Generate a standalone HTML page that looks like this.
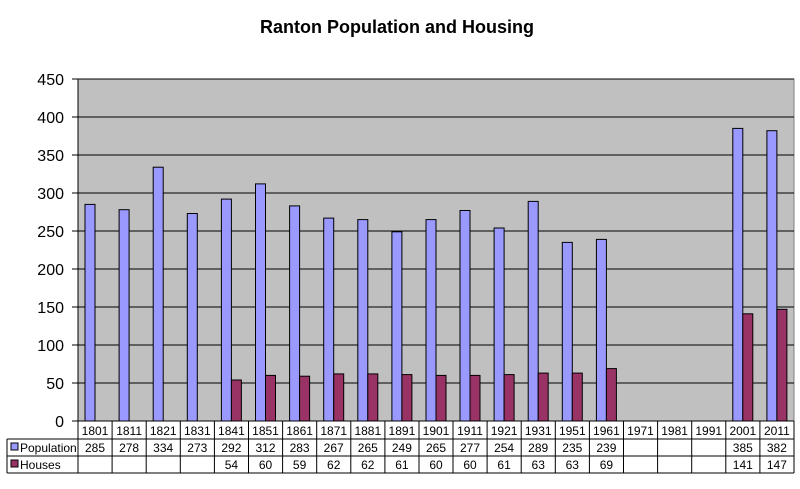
<!DOCTYPE html>
<html><head><style>
body{margin:0;background:#fff;}
</style></head><body>
<svg width="800" height="484" xmlns="http://www.w3.org/2000/svg" font-family="Liberation Sans, Arial, sans-serif">
<text x="397" y="33" text-anchor="middle" font-size="18" font-weight="bold">Ranton Population and Housing</text>
<rect x="78" y="79" width="716" height="342" fill="#c0c0c0" stroke="#808080"/>
<g stroke="#000">
<line x1="78" y1="79" x2="794" y2="79"/><line x1="78" y1="117" x2="794" y2="117"/><line x1="78" y1="155" x2="794" y2="155"/><line x1="78" y1="193" x2="794" y2="193"/><line x1="78" y1="231" x2="794" y2="231"/><line x1="78" y1="269" x2="794" y2="269"/><line x1="78" y1="307" x2="794" y2="307"/><line x1="78" y1="345" x2="794" y2="345"/><line x1="78" y1="383" x2="794" y2="383"/><line x1="78" y1="421" x2="794" y2="421"/>
<line x1="72" y1="79" x2="78" y2="79"/><line x1="72" y1="117" x2="78" y2="117"/><line x1="72" y1="155" x2="78" y2="155"/><line x1="72" y1="193" x2="78" y2="193"/><line x1="72" y1="231" x2="78" y2="231"/><line x1="72" y1="269" x2="78" y2="269"/><line x1="72" y1="307" x2="78" y2="307"/><line x1="72" y1="345" x2="78" y2="345"/><line x1="72" y1="383" x2="78" y2="383"/><line x1="72" y1="421" x2="78" y2="421"/>
<line x1="78" y1="79" x2="78" y2="421"/>
</g>
<g font-size="16" text-anchor="end">
<text x="64" y="85">450</text><text x="64" y="123">400</text><text x="64" y="161">350</text><text x="64" y="199">300</text><text x="64" y="237">250</text><text x="64" y="275">200</text><text x="64" y="313">150</text><text x="64" y="351">100</text><text x="64" y="389">50</text><text x="64" y="427">0</text>
</g>
<g fill="#9999ff" stroke="#000">
<rect x="85" y="204.4" width="10" height="216.6"/>
<rect x="119.1" y="209.7" width="10" height="211.3"/>
<rect x="153.2" y="167.2" width="10" height="253.8"/>
<rect x="187.3" y="213.5" width="10" height="207.5"/>
<rect x="221.4" y="199.1" width="10" height="221.9"/>
<rect x="255.5" y="183.9" width="10" height="237.1"/>
<rect x="289.6" y="205.9" width="10" height="215.1"/>
<rect x="323.7" y="218.1" width="10" height="202.9"/>
<rect x="357.8" y="219.6" width="10" height="201.4"/>
<rect x="391.9" y="231.8" width="10" height="189.2"/>
<rect x="426" y="219.6" width="10" height="201.4"/>
<rect x="460" y="210.5" width="10" height="210.5"/>
<rect x="494.1" y="228" width="10" height="193"/>
<rect x="528.2" y="201.4" width="10" height="219.6"/>
<rect x="562.3" y="242.4" width="10" height="178.6"/>
<rect x="596.4" y="239.4" width="10" height="181.6"/>
<rect x="732.8" y="128.4" width="10" height="292.6"/>
<rect x="766.9" y="130.7" width="10" height="290.3"/>
</g>
<g fill="#993366" stroke="#000">
<rect x="231.4" y="380" width="10" height="41"/>
<rect x="265.5" y="375.4" width="10" height="45.6"/>
<rect x="299.6" y="376.2" width="10" height="44.8"/>
<rect x="333.7" y="373.9" width="10" height="47.1"/>
<rect x="367.8" y="373.9" width="10" height="47.1"/>
<rect x="401.9" y="374.6" width="10" height="46.4"/>
<rect x="436" y="375.4" width="10" height="45.6"/>
<rect x="470" y="375.4" width="10" height="45.6"/>
<rect x="504.1" y="374.6" width="10" height="46.4"/>
<rect x="538.2" y="373.1" width="10" height="47.9"/>
<rect x="572.3" y="373.1" width="10" height="47.9"/>
<rect x="606.4" y="368.6" width="10" height="52.4"/>
<rect x="742.8" y="313.8" width="10" height="107.2"/>
<rect x="776.9" y="309.3" width="10" height="111.7"/>
</g>
<g stroke="#000">
<line x1="78" y1="421" x2="78" y2="473"/><line x1="112.1" y1="421" x2="112.1" y2="473"/><line x1="146.2" y1="421" x2="146.2" y2="473"/><line x1="180.3" y1="421" x2="180.3" y2="473"/><line x1="214.4" y1="421" x2="214.4" y2="473"/><line x1="248.5" y1="421" x2="248.5" y2="473"/><line x1="282.6" y1="421" x2="282.6" y2="473"/><line x1="316.7" y1="421" x2="316.7" y2="473"/><line x1="350.8" y1="421" x2="350.8" y2="473"/><line x1="384.9" y1="421" x2="384.9" y2="473"/><line x1="419" y1="421" x2="419" y2="473"/><line x1="453" y1="421" x2="453" y2="473"/><line x1="487.1" y1="421" x2="487.1" y2="473"/><line x1="521.2" y1="421" x2="521.2" y2="473"/><line x1="555.3" y1="421" x2="555.3" y2="473"/><line x1="589.4" y1="421" x2="589.4" y2="473"/><line x1="623.5" y1="421" x2="623.5" y2="473"/><line x1="657.6" y1="421" x2="657.6" y2="473"/><line x1="691.7" y1="421" x2="691.7" y2="473"/><line x1="725.8" y1="421" x2="725.8" y2="473"/><line x1="759.9" y1="421" x2="759.9" y2="473"/><line x1="794" y1="421" x2="794" y2="473"/>
<line x1="7" y1="439" x2="794" y2="439"/><line x1="7" y1="456" x2="794" y2="456"/><line x1="7" y1="473" x2="794" y2="473"/><line x1="7" y1="439" x2="7" y2="473"/>
</g>
<g font-size="12" text-anchor="middle">
<text x="95" y="435">1801</text><text x="129.1" y="435">1811</text><text x="163.2" y="435">1821</text><text x="197.3" y="435">1831</text><text x="231.4" y="435">1841</text><text x="265.5" y="435">1851</text><text x="299.6" y="435">1861</text><text x="333.7" y="435">1871</text><text x="367.8" y="435">1881</text><text x="401.9" y="435">1891</text><text x="436" y="435">1901</text><text x="470" y="435">1911</text><text x="504.1" y="435">1921</text><text x="538.2" y="435">1931</text><text x="572.3" y="435">1951</text><text x="606.4" y="435">1961</text><text x="640.5" y="435">1971</text><text x="674.6" y="435">1981</text><text x="708.7" y="435">1991</text><text x="742.8" y="435">2001</text><text x="776.9" y="435">2011</text>
<text x="95" y="452">285</text><text x="129.1" y="452">278</text><text x="163.2" y="452">334</text><text x="197.3" y="452">273</text><text x="231.4" y="452">292</text><text x="265.5" y="452">312</text><text x="299.6" y="452">283</text><text x="333.7" y="452">267</text><text x="367.8" y="452">265</text><text x="401.9" y="452">249</text><text x="436" y="452">265</text><text x="470" y="452">277</text><text x="504.1" y="452">254</text><text x="538.2" y="452">289</text><text x="572.3" y="452">235</text><text x="606.4" y="452">239</text><text x="742.8" y="452">385</text><text x="776.9" y="452">382</text>
<text x="231.4" y="469">54</text><text x="265.5" y="469">60</text><text x="299.6" y="469">59</text><text x="333.7" y="469">62</text><text x="367.8" y="469">62</text><text x="401.9" y="469">61</text><text x="436" y="469">60</text><text x="470" y="469">60</text><text x="504.1" y="469">61</text><text x="538.2" y="469">63</text><text x="572.3" y="469">63</text><text x="606.4" y="469">69</text><text x="742.8" y="469">141</text><text x="776.9" y="469">147</text>
</g>
<rect x="11" y="443" width="7" height="7" fill="#9999ff" stroke="#000"/><text x="20" y="452" font-size="12">Population</text>
<rect x="11" y="460" width="7" height="7" fill="#993366" stroke="#000"/><text x="20" y="469" font-size="12">Houses</text>
</svg>
</body></html>
